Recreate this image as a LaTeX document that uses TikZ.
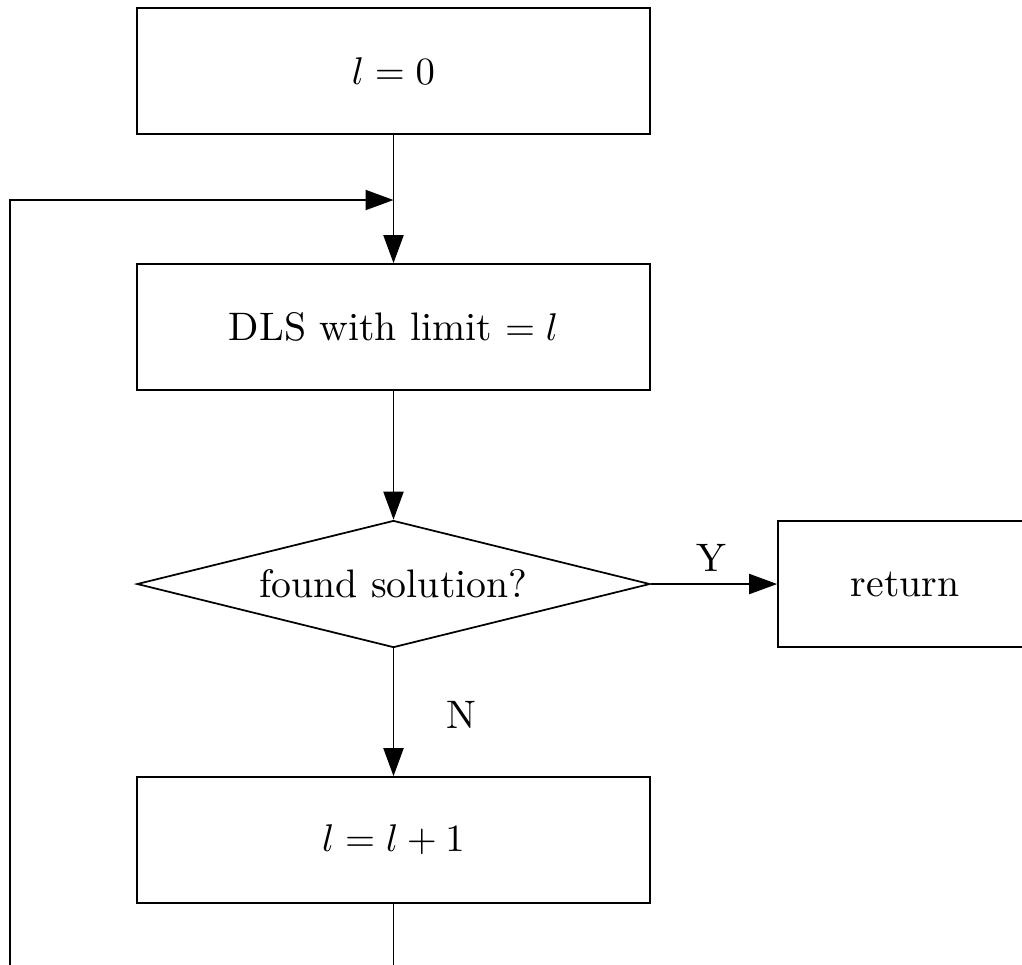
\documentclass[tikz,border=0pt]{standalone}
\usetikzlibrary{arrows.meta,shapes.geometric}
\begin{document}
\begin{tikzpicture}[x=0.259pt,y=-0.259pt,
  font=\fontsize{10.3}{12.4}\selectfont,
  box/.style={draw,line width=0.45pt,rectangle,inner sep=0pt,minimum width=513*0.259pt,minimum height=126*0.259pt},
  dia/.style={draw,line width=0.45pt,diamond,inner sep=0pt,shape aspect=4.04,minimum width=513*0.259pt,minimum height=127*0.259pt},
  arr/.style={line width=0.45pt,-{Triangle[length=7.25pt,width=5.2pt]}},
  lbl/.style={inner sep=0pt}]
\useasboundingbox (0,0) rectangle (1022,964);
\clip (0,0) rectangle (1022,964);
\node[box] (init) at (393.5,71) {$l=0$};
\node[box] (dls) at (393.5,327) {DLS with limit $=l$};
\node[dia] (found) at (393.5,584) {found solution?};
\node[box,minimum width=254*0.259pt] (ret) at (905,584) {return};
\node[box] (inc) at (393.5,840) {$l=l+1$};
\coordinate (join) at (393.5,200);
\coordinate (below) at (393.5,1010);
\coordinate (leftbot) at (10,1010);
\coordinate (lefttop) at (10,200);
\draw[line width=0.45pt] (init.south) -- (join);
\draw[arr] (join) -- (dls.north);
\draw[arr] (dls.south) -- (found.north);
\draw[arr] (found.east) -- node[lbl,above=12*0.259pt,pos=0.48] (y) {Y} (ret.west);
\draw[arr] (found.south) -- node[lbl,right=52*0.259pt,pos=0.52] (n) {N} (inc.north);
\draw[arr] (inc.south) -- (below) -- (leftbot) -- (lefttop) -- (join);
\end{tikzpicture}
\end{document}
